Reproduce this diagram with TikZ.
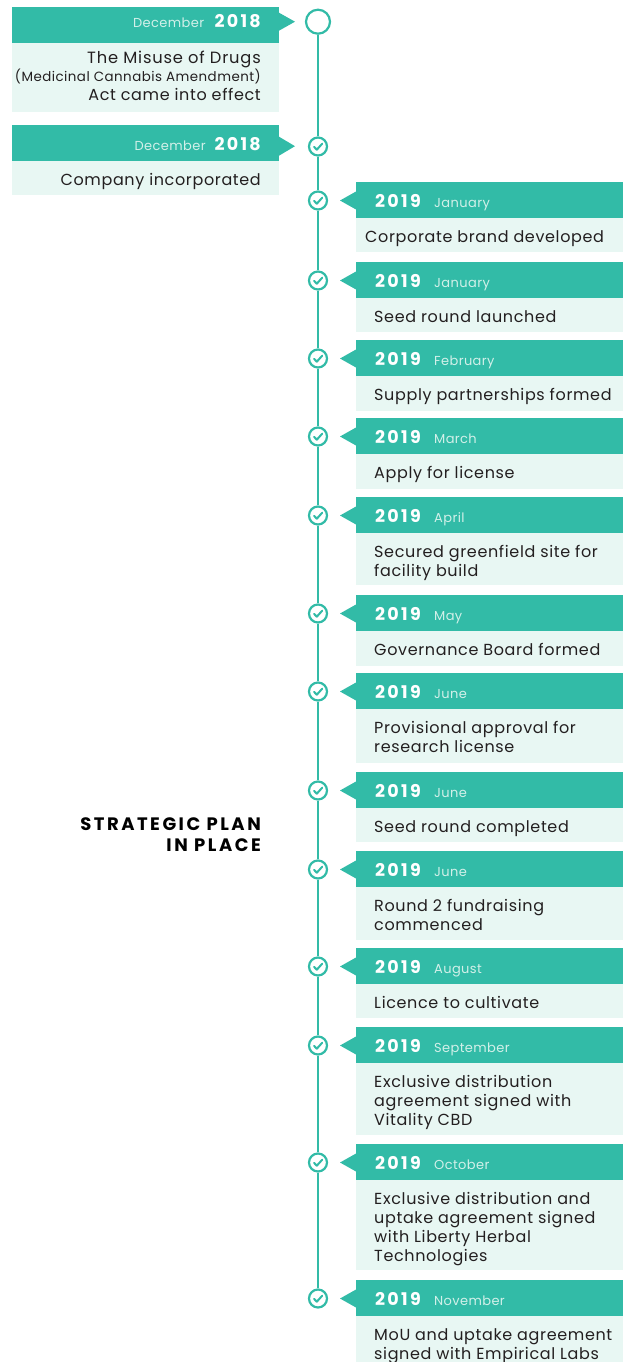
\documentclass[tikz,border=0pt]{standalone}
\usepackage{fontspec}
\setmainfont{Poppins}
\definecolor{brandteal}{HTML}{32BBA7}
\definecolor{brandmint}{HTML}{E8F7F3}
\definecolor{monthtxt}{HTML}{D2F0E9}
\definecolor{inktxt}{HTML}{231F20}
\newcommand{\tlyearfont}{\fontsize{17.5}{20}\bfseries\selectfont\addfontfeatures{LetterSpace=13}}
\newcommand{\tlmonthfont}{\fontsize{13}{15}\selectfont\addfontfeatures{LetterSpace=3}}
\newcommand{\tlbodyfont}{\fontsize{16}{19}\selectfont\addfontfeatures{LetterSpace=4}}
\begin{document}
\begin{tikzpicture}[x=1pt,y=-1pt,
  headbar/.style={fill=brandteal},
  bodybar/.style={fill=brandmint},
  yeartxt/.style={font=\tlyearfont, text=white, inner sep=0pt},
  monthstyle/.style={font=\tlmonthfont, text=monthtxt, inner sep=0pt},
  bodytxt/.style={font=\tlbodyfont, text=inktxt, inner sep=0pt, align=left},
  checknode/.style={circle, draw=brandteal, line width=2.2pt, fill=white, minimum size=18pt, inner sep=0pt},
  tickmark/.style={draw=brandteal, line width=2pt, line cap=round, line join=round},
  captiontxt/.style={anchor=base east, inner sep=0pt, text=black,
    font=\fontsize{18}{21}\bfseries\selectfont\addfontfeatures{LetterSpace=14}}
]
\useasboundingbox (0,0) rectangle (630,1362);

% ---- left-hand entries (2018) ----
% first entry: header, pointer, body
\fill[headbar] (12,7) rectangle (279,43);
\fill[headbar] (279,12.7) -- (295,21.7) -- (279,30.7) -- cycle;
\fill[bodybar] (12,43) rectangle (279,112);
\node[anchor=base east, inner sep=0pt] (h0) at (261,27.7)
  {{\tlmonthfont\color{monthtxt}December}\hspace{10.5pt}{\tlyearfont\color{white}2018}};
\node[bodytxt, anchor=base east, font=\fontsize{16.3}{19}\selectfont\addfontfeatures{LetterSpace=5}] (b0a) at (261,63.5) {The Misuse of Drugs};
\node[bodytxt, anchor=base east, font=\fontsize{13.4}{15}\selectfont\addfontfeatures{LetterSpace=3.5}] (b0b) at (261,82) {(Medicinal Cannabis Amendment)};
\node[bodytxt, anchor=base east] (b0c) at (261,100.5) {Act came into effect};

% second entry
\fill[headbar] (12,125) rectangle (279,161);
\fill[headbar] (279,136.7) -- (295,146.2) -- (279,155.7) -- cycle;
\fill[bodybar] (12,161) rectangle (279,195);
\node[anchor=base east, inner sep=0pt] (h1) at (261,150.3)
  {{\tlmonthfont\color{monthtxt}December}\hspace{9pt}{\tlyearfont\color{white}2018}};
\node[bodytxt, anchor=base east] (b1) at (261,185.5) {Company incorporated};

% ---- markers on the time line ----
\node[circle, draw=brandteal, line width=2.2pt, fill=white, minimum size=24pt, inner sep=0pt] (c0) at (318,21.7) {};
\node[checknode] (c1) at (318,146.5) {};

% right-hand entries: header top / month / body text / body height / marker name / text x
\foreach \top/\mon/\txt/\bh/\nm/\tx in {
  182/January/{Corporate brand developed}/34/c2/365,
  262/January/{Seed round launched}/34/c3/374,
  340/February/{Supply partnerships formed}/35/c4/374,
  418/March/{Apply for license}/35/c5/374,
  497/April/{Secured greenfield site for\\facility build}/52/c6/374,
  595/May/{Governance Board formed}/35/c7/374,
  673/June/{Provisional approval for\\research license}/54/c8/374,
  772/June/{Seed round completed}/34/c9/374,
  851/June/{Round 2 fundraising\\commenced}/53/c10/374,
  948/August/{Licence to cultivate}/34/c11/374,
  1027/September/{Exclusive distribution\\agreement signed with\\Vitality CBD}/72/c12/374,
  1144/October/{Exclusive distribution and\\uptake agreement signed\\with Liberty Herbal\\Technologies}/90/c13/374,
  1280/November/{MoU and uptake agreement\\signed with Empirical Labs}/60/c14/374}{
  \fill[headbar] (356,\top) rectangle (623,\top+36);
  \fill[headbar] (356,\top+9.5) -- (340,\top+18.5) -- (356,\top+27.5) -- cycle;
  \fill[bodybar] (356,\top+36) rectangle (623,\top+36+\bh);
  \node[yeartxt, anchor=base west] (y-\nm) at (375,\top+25.3) {2019};
  \node[monthstyle, anchor=base west] (m-\nm) at (434,\top+25.3) {\mon};
  \node[bodytxt, anchor=north west] (t-\nm) at (\tx,\top+36+12.5) {\txt};
  \node[checknode] (\nm) at (318,\top+18.5) {};
}

% vertical line joining consecutive markers
\foreach \a/\b in {c0/c1,c1/c2,c2/c3,c3/c4,c4/c5,c5/c6,c6/c7,c7/c8,c8/c9,c9/c10,c10/c11,c11/c12,c12/c13,c13/c14}
  \draw[brandteal, line width=2.4pt] (\a) -- (\b);

% tick marks inside the check markers
\foreach \nm in {c1,c2,c3,c4,c5,c6,c7,c8,c9,c10,c11,c12,c13,c14}
  \draw[tickmark, shift={(\nm.center)}] (-4,0.3) -- (-1.2,3.2) -- (4.2,-2.8);

% side caption
\node[captiontxt] (plan1) at (261,830.5) {STRATEGIC PLAN};
\node[captiontxt] (plan2) at (261,851.5) {IN PLACE};
\end{tikzpicture}
\end{document}
